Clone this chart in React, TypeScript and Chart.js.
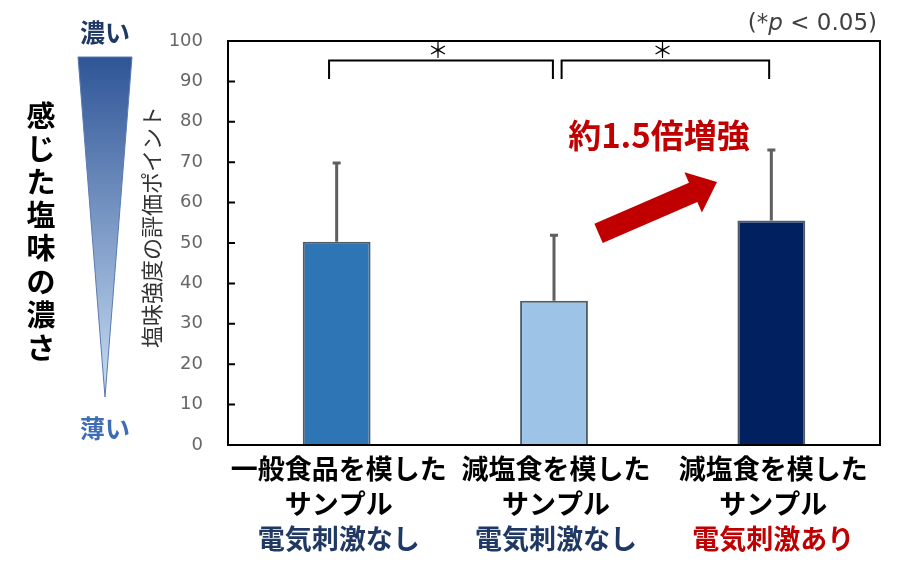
import { useEffect, useRef } from "react";
import { Chart, registerables } from "chart.js";
import type { Plugin } from "chart.js";

Chart.register(...registerables);

const categories = ["一般食品を模した", "減塩食を模した", "減塩食を模した"];
const sampleLabels = ["サンプル", "サンプル", "サンプル"];
const conditionLabels = ["電気刺激なし", "電気刺激なし", "電気刺激あり"];
const conditionColors = ["#1F3864", "#1F3864", "#C00000"];
const meanValues = [50.3, 35.7, 55.6];
const sdValues = [19.5, 16.2, 17.4];
const barColors = ["#2E75B6", "#9DC3E6", "#002060"];

const yMin = 0;
const yMax = 100;
const yStep = 10;

// significance brackets: [from, to] in category units
const bracketSpans = [
	[-0.035, 0.995],
	[1.035, 1.99],
];
const bracketTop = 95.2;
const bracketFoot = 90.6;
const starLevel = 97.8;

// arrow in (category, value) units
const arrowFrom = [1.205, 52.4];
const arrowTo = [1.75, 65.1];
const arrowText = "約1.5倍増強";
const arrowTextAt = [1.483, 76.6];

const yTitle = "塩味強度の評価ポイント";
const sideTitle = "感じた塩味の濃さ";

const JP = '"Noto Sans CJK JP", sans-serif';
const NOTE = '"DejaVu Sans", sans-serif';

const decorPlugin: Plugin<"bar"> = {
	id: "decor",
	beforeDraw(chart) {
		const { ctx, width, height } = chart;
		ctx.save();
		ctx.fillStyle = "#ffffff";
		ctx.fillRect(0, 0, width, height);
		ctx.restore();
	},
	afterDatasetsDraw(chart) {
		const { ctx, chartArea } = chart;
		const x = chart.scales.x;
		const y = chart.scales.y;
		const meta = chart.getDatasetMeta(0);
		ctx.save();

		// error bars (upper only)
		ctx.strokeStyle = "#5F5F5F";
		ctx.lineWidth = 3;
		meta.data.forEach((bar, i) => {
			const top = y.getPixelForValue(meanValues[i] + sdValues[i]);
			const base = y.getPixelForValue(meanValues[i]);
			ctx.beginPath();
			ctx.moveTo(bar.x, base);
			ctx.lineTo(bar.x, top);
			ctx.moveTo(bar.x - 4, top);
			ctx.lineTo(bar.x + 4, top);
			ctx.stroke();
		});

		// brackets
		ctx.strokeStyle = "#000000";
		ctx.lineWidth = 2;
		ctx.fillStyle = "#000000";
		ctx.font = `21px ${JP}`;
		ctx.textAlign = "center";
		ctx.textBaseline = "middle";
		bracketSpans.forEach(([a, b]) => {
			const xa = x.getPixelForValue(a);
			const xb = x.getPixelForValue(b);
			const yt = y.getPixelForValue(bracketTop);
			const yf = y.getPixelForValue(bracketFoot);
			ctx.beginPath();
			ctx.moveTo(xa, yf);
			ctx.lineTo(xa, yt);
			ctx.lineTo(xb, yt);
			ctx.lineTo(xb, yf);
			ctx.stroke();
			ctx.fillText("＊", (xa + xb) / 2 - 3, y.getPixelForValue(starLevel));
		});

		// arrow
		const fx = x.getPixelForValue(arrowFrom[0]);
		const fy = y.getPixelForValue(arrowFrom[1]);
		const tx = x.getPixelForValue(arrowTo[0]);
		const ty = y.getPixelForValue(arrowTo[1]);
		const len = Math.hypot(tx - fx, ty - fy);
		const ang = Math.atan2(ty - fy, tx - fx);
		const sw = 10.5;
		const hw = 22;
		const hl = 26;
		ctx.save();
		ctx.translate(fx, fy);
		ctx.rotate(ang);
		ctx.beginPath();
		ctx.moveTo(0, -sw);
		ctx.lineTo(len - hl, -sw);
		ctx.lineTo(len - hl, -hw);
		ctx.lineTo(len, 0);
		ctx.lineTo(len - hl, hw);
		ctx.lineTo(len - hl, sw);
		ctx.lineTo(0, sw);
		ctx.closePath();
		ctx.fillStyle = "#C00000";
		ctx.fill();
		ctx.restore();

		ctx.fillStyle = "#C00000";
		ctx.font = `bold 33px ${JP}`;
		ctx.fillText(
			arrowText,
			x.getPixelForValue(arrowTextAt[0]),
			y.getPixelForValue(arrowTextAt[1]),
		);

		// plot frame and inside ticks
		ctx.strokeStyle = "#000000";
		ctx.lineWidth = 2;
		ctx.strokeRect(
			chartArea.left,
			chartArea.top,
			chartArea.right - chartArea.left,
			chartArea.bottom - chartArea.top,
		);
		ctx.beginPath();
		y.ticks.forEach((t) => {
			if (t.value === yMin || t.value === yMax) return;
			const py = y.getPixelForValue(t.value);
			ctx.moveTo(chartArea.left, py);
			ctx.lineTo(chartArea.left + 7, py);
		});
		ctx.stroke();
		ctx.restore();
	},
	afterDraw(chart) {
		const { ctx, chartArea } = chart;
		const meta = chart.getDatasetMeta(0);
		ctx.save();
		ctx.textAlign = "center";
		ctx.textBaseline = "middle";

		// category labels
		meta.data.forEach((bar, i) => {
			ctx.font = `bold 27px ${JP}`;
			ctx.fillStyle = "#000000";
			ctx.fillText(categories[i], bar.x + 2, chartArea.bottom + 24);
			ctx.fillText(sampleLabels[i], bar.x + 2, chartArea.bottom + 59);
			ctx.fillStyle = conditionColors[i];
			ctx.fillText(conditionLabels[i], bar.x + 2, chartArea.bottom + 94);
		});

		// y axis title
		ctx.save();
		ctx.translate(152, 227);
		ctx.rotate(-Math.PI / 2);
		ctx.fillStyle = "#333333";
		ctx.font = `22px ${JP}`;
		ctx.fillText(yTitle, 0, 0);
		ctx.restore();

		// intensity wedge
		const grad = ctx.createLinearGradient(0, 57, 0, 397);
		grad.addColorStop(0, "#2F5597");
		grad.addColorStop(1, "#C9DEF4");
		ctx.beginPath();
		ctx.moveTo(78, 57);
		ctx.lineTo(132, 57);
		ctx.lineTo(105, 397);
		ctx.closePath();
		ctx.fillStyle = grad;
		ctx.fill();
		ctx.strokeStyle = "#5A7BB0";
		ctx.lineWidth = 1;
		ctx.stroke();

		ctx.font = `bold 25px ${JP}`;
		ctx.fillStyle = "#1F3864";
		ctx.fillText("濃い", 105, 32);
		ctx.fillStyle = "#3E6DB5";
		ctx.fillText("薄い", 105, 428);

		ctx.font = `bold 29px ${JP}`;
		ctx.fillStyle = "#000000";
		Array.from(sideTitle).forEach((ch, i) => {
			ctx.fillText(ch, 41, 116 + i * 33.1);
		});

		// significance note
		ctx.textAlign = "left";
		ctx.fillStyle = "#404040";
		const parts: [string, string][] = [
			["(*", `23px ${NOTE}`],
			["p", `oblique 23px ${NOTE}`],
			[" < 0.05)", `23px ${NOTE}`],
		];
		let total = 0;
		parts.forEach(([s, f]) => {
			ctx.font = f;
			total += ctx.measureText(s).width;
		});
		let px = 877 - total;
		parts.forEach(([s, f]) => {
			ctx.font = f;
			ctx.fillText(s, px, 24);
			px += ctx.measureText(s).width;
		});
		ctx.restore();
	},
};

export default function App() {
	const chartRef = useRef<HTMLCanvasElement>(null);
	const chartInstance = useRef<Chart | null>(null);

	useEffect(() => {
		document.body.style.margin = "0";
		if (!chartRef.current) return;
		if (chartInstance.current) {
			chartInstance.current.destroy();
		}
		const ctx = chartRef.current.getContext("2d");
		if (!ctx) return;

		chartInstance.current = new Chart(ctx, {
			type: "bar",
			data: {
				labels: categories,
				datasets: [
					{
						data: meanValues,
						backgroundColor: barColors,
						borderColor: "#4F5B66",
						borderWidth: 2,
						barPercentage: 0.312,
						categoryPercentage: 1,
					},
				],
			},
			options: {
				responsive: true,
				maintainAspectRatio: false,
				animation: false,
				layout: {
					padding: { left: 168, right: 25, top: 41, bottom: 127 },
				},
				plugins: {
					legend: { display: false },
					tooltip: { enabled: false },
				},
				scales: {
					x: {
						display: false,
						offset: true,
					},
					y: {
						min: yMin,
						max: yMax,
						border: { display: false },
						grid: { display: false, drawTicks: false },
						ticks: {
							stepSize: yStep,
							padding: 25,
							color: "#666666",
							font: { family: "'DejaVu Sans'", size: 18 },
						},
						afterFit: (scale) => {
							scale.width = 60;
						},
					},
				},
			},
			plugins: [decorPlugin],
		});

		return () => {
			if (chartInstance.current) {
				chartInstance.current.destroy();
				chartInstance.current = null;
			}
		};
	}, []);

	return (
		<div style={{ width: 905, height: 572, position: "relative" }}>
			<canvas ref={chartRef} />
		</div>
	);
}
